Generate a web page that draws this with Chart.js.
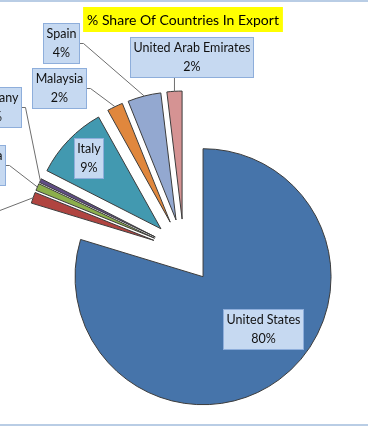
<!DOCTYPE html>
<html>
<head>
<meta charset="utf-8">
<title>% Share Of Countries In Export</title>
<script src="https://cdn.jsdelivr.net/npm/chart.js@4.4.0/dist/chart.umd.min.js"></script>
<style>
  html, body { margin: 0; padding: 0; background: #fff; overflow: hidden; }
  #wrap { position: relative; width: 368px; height: 427px; }
</style>
</head>
<body>
<div id="wrap"><canvas id="exportShare" width="368" height="427"></canvas></div>
<script>
const chartTitle = '% Share Of Countries In Export';
const countries = ['United States', 'United Kingdom', 'Canada', 'Germany', 'Italy', 'Malaysia', 'Spain', 'United Arab Emirates'];
const exportShare = [79.7, 1.4, 0.9, 0.5, 9.4, 2.0, 4.2, 1.9];
const sliceColors = ['#4674AA', '#B04440', '#8CAF4B', '#604D85', '#4299B0', '#E0873D', '#93A8D0', '#D59393'];

// label box centre, measured from the outer edge of its (exploded) slice
const labelPlacement = [
    {dx: -16, dy: -51, inside: true},
    {dx: -96, dy: 16},
    {dx: -56, dy: -22},
    {dx: -47, dy: -73.5},
    {dx: 20, dy: 18, inside: true},
    {dx: -56, dy: -19},
    {dx: -83.5, dy: -53.5},
    {dx: 17, dy: -34}
];

const EXPLODE = 32;
const FONT = '12.5px Lato, "Open Sans", sans-serif';

document.addEventListener("DOMContentLoaded", drawChart);

function drawChart(){
    let ctx = document.getElementById('exportShare').getContext('2d');
    const total = exportShare.reduce((a, b) => a + b, 0);

    // chart frame lines, top and bottom
    const frame = {
        id: 'frame',
        beforeDraw(chart) {
            const c = chart.ctx;
            c.save();
            c.fillStyle = '#B9CDE5';
            c.fillRect(0, 0, chart.width, 2);
            c.fillRect(0, 424, chart.width, 2);
            c.restore();
        }
    };

    // every slice pulled out from the centre along its middle angle
    const explode = {
        id: 'explode',
        beforeDatasetDraw(chart, args) {
            const c = chart.ctx;
            args.meta.data.forEach(arc => {
                const mid = (arc.startAngle + arc.endAngle) / 2;
                c.save();
                c.translate(Math.cos(mid) * EXPLODE, Math.sin(mid) * EXPLODE);
                arc.draw(c);
                c.restore();
            });
            return false;
        }
    };

    const dataLabels = {
        id: 'dataLabels',
        afterDraw(chart) {
            const c = chart.ctx;
            const meta = chart.getDatasetMeta(0);
            c.save();
            c.font = FONT;
            c.lineWidth = 1;
            meta.data.forEach((arc, i) => {
                const mid = (arc.startAngle + arc.endAngle) / 2;
                const r = arc.outerRadius + EXPLODE;
                const ax = arc.x + Math.cos(mid) * r;
                const ay = arc.y + Math.sin(mid) * r;
                const place = labelPlacement[i];
                const lines = [countries[i], Math.round(exportShare[i] / total * 100) + '%'];
                const w = Math.round(Math.max(...lines.map(t => c.measureText(t).width)) + 6);
                const h = 40;
                const left = Math.round(ax + place.dx - w / 2) + 0.5;
                const top = Math.round(ay + place.dy - h / 2) + 0.5;

                if (!place.inside) {
                    c.strokeStyle = '#6E6E6E';
                    c.beginPath();
                    c.moveTo(ax, ay);
                    if (ax >= left && ax <= left + w) {
                        c.lineTo(ax, top + h);
                    } else {
                        const side = ax < left ? left : left + w;
                        const stub = ax < left ? -4 : 4;
                        c.lineTo(side + stub, top + h / 2);
                        c.lineTo(side, top + h / 2);
                    }
                    c.stroke();
                }

                c.fillStyle = '#C6D9F1';
                c.fillRect(left, top, w, h);
                c.strokeStyle = '#8EAEDB';
                c.strokeRect(left, top, w, h);
                c.fillStyle = '#111';
                c.textAlign = 'center';
                c.textBaseline = 'middle';
                lines.forEach((t, k) => c.fillText(t, left + w / 2, top + 1 + 19 * (k + 0.5)));
            });
            c.restore();
        }
    };

    const titleBox = {
        id: 'titleBox',
        afterDraw(chart) {
            const c = chart.ctx;
            c.save();
            c.font = '14px Lato, "Open Sans", sans-serif';
            const w = c.measureText(chartTitle).width + 8;
            c.fillStyle = '#FFFF00';
            c.fillRect(183 - w / 2, 7, w, 25);
            c.fillStyle = '#000';
            c.textAlign = 'center';
            c.textBaseline = 'middle';
            c.fillText(chartTitle, 183, 20);
            c.restore();
        }
    };

    const config = {
        type: 'pie',
        data: {
            labels: countries,
            datasets: [{
                label: chartTitle,
                data: exportShare,
                backgroundColor: sliceColors,
                borderColor: '#3C3C3C',
                borderWidth: 1
            }]
        },
        options: {
            responsive: false,
            animation: false,
            radius: 128,
            layout: {
                padding: {left: 0, right: 0, top: 80, bottom: 5}
            },
            plugins: {
                legend: {display: false},
                title: {display: false},
                tooltip: {enabled: false}
            }
        },
        plugins: [frame, explode, dataLabels, titleBox]
    };

    let chart = new Chart(ctx, config);
}
</script>
</body>
</html>
